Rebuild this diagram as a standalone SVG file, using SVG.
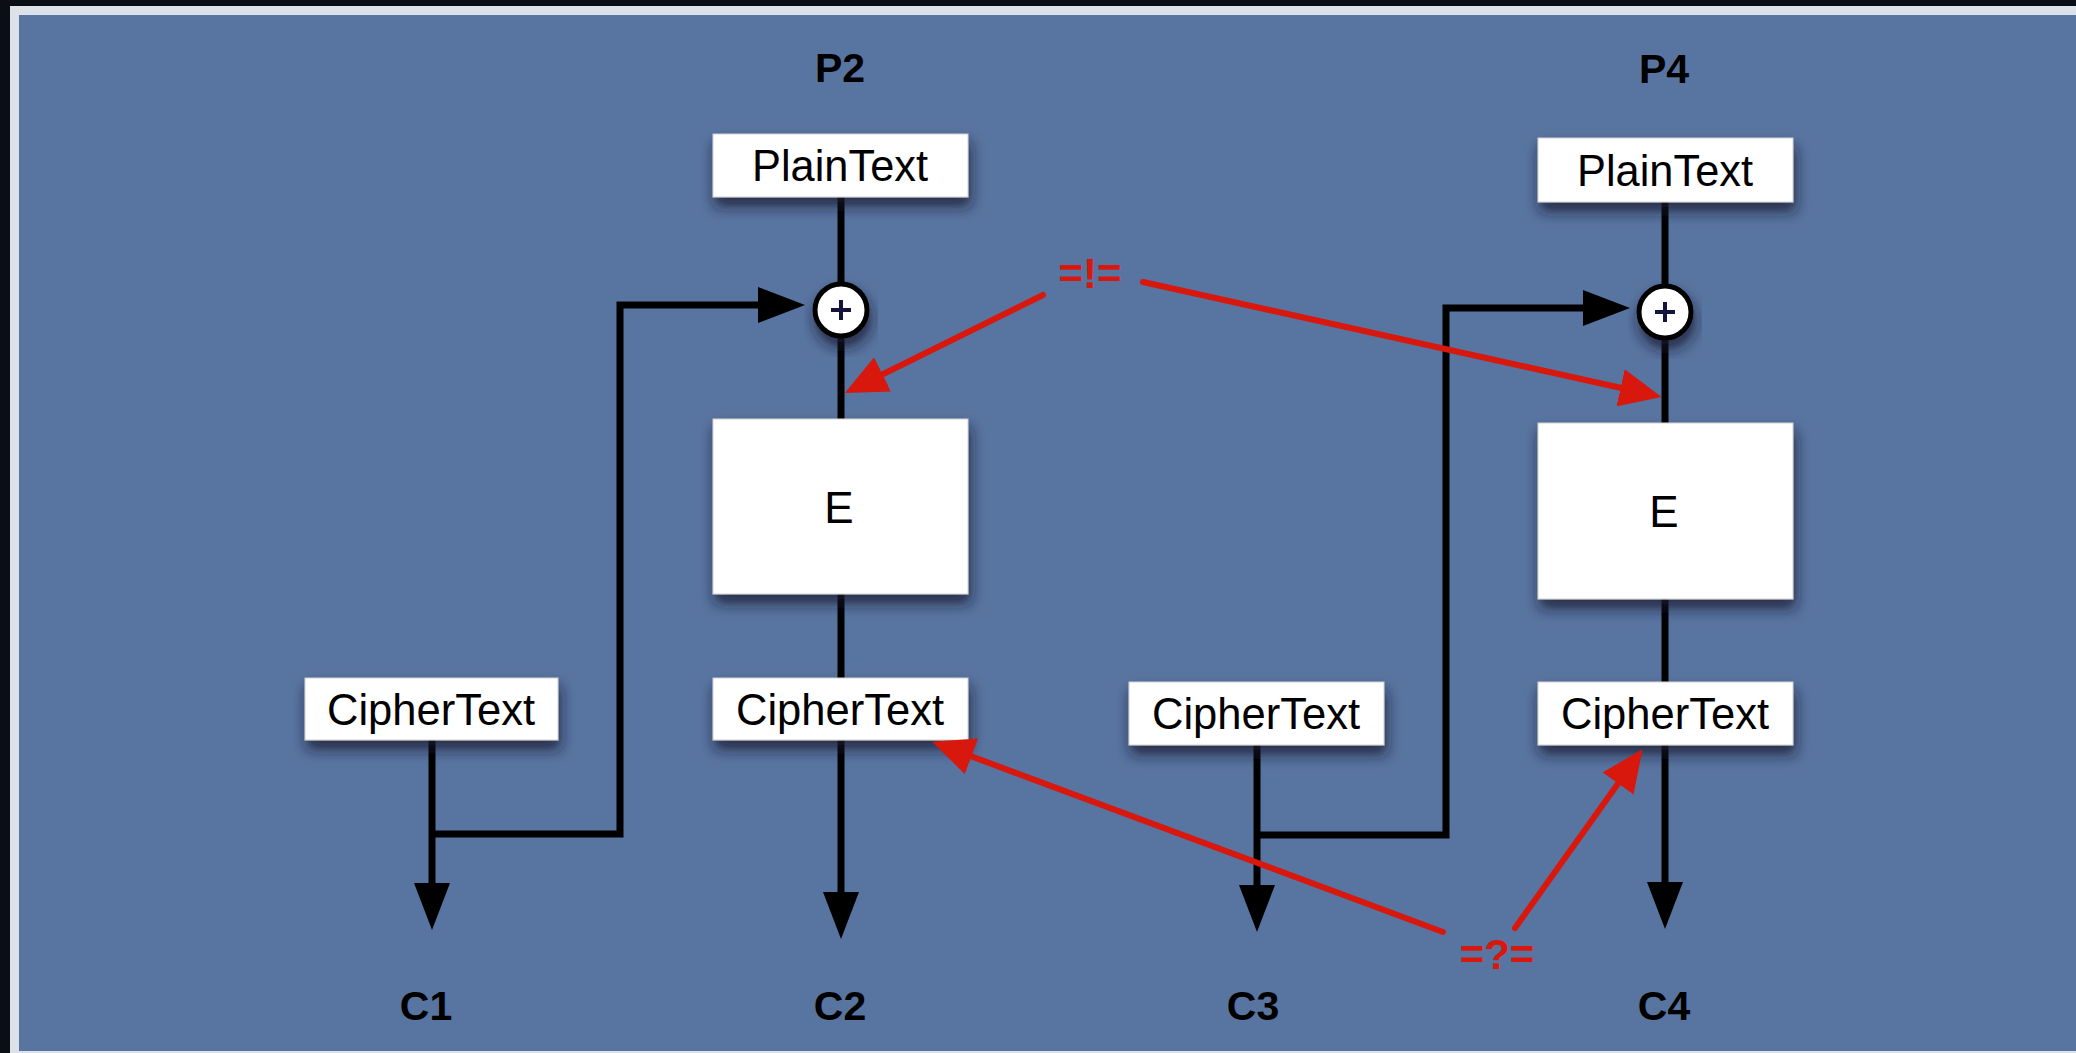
<svg xmlns="http://www.w3.org/2000/svg" width="2076" height="1053" viewBox="0 0 2076 1053">
  <defs>
    <filter id="shadow" x="-20%" y="-30%" width="140%" height="170%">
      <feDropShadow dx="2" dy="9" stdDeviation="7" flood-color="#141c32" flood-opacity="0.8"/>
    </filter>
    <marker id="ab" markerUnits="userSpaceOnUse" markerWidth="48" markerHeight="36" refX="27" refY="18" orient="auto">
      <path d="M0,0 L47,18 L0,36 Z" fill="#000"/>
    </marker>
    <marker id="ar" markerUnits="userSpaceOnUse" markerWidth="44" markerHeight="38" refX="24" refY="19" orient="auto">
      <path d="M0,0 L42,19 L0,38 Z" fill="#d8170d"/>
    </marker>
    <style>
      .box { fill: #ffffff; stroke: #d0d0d0; stroke-width: 1; filter: url(#shadow); }
      .lbl { font-family: "Liberation Sans", Arial, sans-serif; font-size: 44px; fill: #000; text-anchor: middle; }
      .head { font-family: "Liberation Sans", Arial, sans-serif; font-size: 41px; font-weight: bold; fill: #000; text-anchor: middle; }
      .red { font-family: "Liberation Sans", Arial, sans-serif; font-size: 42px; font-weight: bold; fill: #d8170d; text-anchor: middle; }
      .wire { fill: none; stroke: #000; stroke-width: 7; }
      .warrow { fill: none; stroke: #000; stroke-width: 7; marker-end: url(#ab); }
      .rarrow { fill: none; stroke: #d8170d; stroke-width: 6; stroke-linecap: round; marker-end: url(#ar); }
      .xor { fill: #ffffff; stroke: #000; stroke-width: 5; filter: url(#shadow); }
      .plus { stroke: #14143c; stroke-width: 4; }
    </style>
  </defs>

  <!-- frame and background -->
  <rect x="0" y="0" width="2076" height="1053" fill="#0c0e15"/>
  <rect x="10" y="6" width="2066" height="1047" fill="#dde2ea"/>
  <rect x="19" y="15" width="2057" height="1036" fill="#5874a0"/>

  <!-- connectors -->
  <g id="connectors">
    <path class="wire" d="M841,197 V419 M841,594 V678"/>
    <path class="warrow" d="M841,740 V919"/>
    <path class="wire" d="M1665,202 V423 M1665,599 V682"/>
    <path class="warrow" d="M1665,745 V909"/>
    <path class="warrow" d="M432,740 V910"/>
    <path class="warrow" d="M432,834 H620 V305 H785"/>
    <path class="warrow" d="M1257,745 V912"/>
    <path class="warrow" d="M1257,835 H1446 V308 H1610"/>
  </g>

  <!-- nodes -->
  <g id="label-P2"><text class="head" x="840" y="82">P2</text></g>
  <g id="label-P4"><text class="head" x="1664" y="83">P4</text></g>

  <g id="plain2">
    <rect class="box" x="713" y="134" width="255" height="63"/>
    <text class="lbl" x="840" y="181" textLength="176" lengthAdjust="spacingAndGlyphs">PlainText</text>
  </g>
  <g id="plain4">
    <rect class="box" x="1538" y="138" width="255" height="64"/>
    <text class="lbl" x="1665" y="186" textLength="176" lengthAdjust="spacingAndGlyphs">PlainText</text>
  </g>

  <g id="xor2">
    <circle class="xor" cx="841" cy="310" r="26"/>
    <path class="plus" d="M831,310 H851 M841,300 V320"/>
  </g>
  <g id="xor4">
    <circle class="xor" cx="1665" cy="312" r="26"/>
    <path class="plus" d="M1655,312 H1675 M1665,302 V322"/>
  </g>

  <g id="enc2">
    <rect class="box" x="713" y="419" width="255" height="175"/>
    <text class="lbl" x="839" y="523">E</text>
  </g>
  <g id="enc4">
    <rect class="box" x="1538" y="423" width="255" height="176"/>
    <text class="lbl" x="1664" y="527">E</text>
  </g>

  <g id="cipher1">
    <rect class="box" x="305" y="678" width="253" height="62"/>
    <text class="lbl" x="431" y="725" textLength="208" lengthAdjust="spacingAndGlyphs">CipherText</text>
  </g>
  <g id="cipher2">
    <rect class="box" x="713" y="678" width="255" height="62"/>
    <text class="lbl" x="840" y="725" textLength="208" lengthAdjust="spacingAndGlyphs">CipherText</text>
  </g>
  <g id="cipher3">
    <rect class="box" x="1129" y="682" width="255" height="63"/>
    <text class="lbl" x="1256" y="729" textLength="208" lengthAdjust="spacingAndGlyphs">CipherText</text>
  </g>
  <g id="cipher4">
    <rect class="box" x="1538" y="682" width="255" height="63"/>
    <text class="lbl" x="1665" y="729" textLength="208" lengthAdjust="spacingAndGlyphs">CipherText</text>
  </g>

  <g id="label-C1"><text class="head" x="426" y="1020">C1</text></g>
  <g id="label-C2"><text class="head" x="840" y="1020">C2</text></g>
  <g id="label-C3"><text class="head" x="1253" y="1020">C3</text></g>
  <g id="label-C4"><text class="head" x="1664" y="1020">C4</text></g>

  <!-- red annotations -->
  <g id="annotations">
    <path class="rarrow" d="M1043,295 L861,385"/>
    <path class="rarrow" d="M1143,282 L1644,393"/>
    <path class="rarrow" d="M1443,932 L949,748"/>
    <path class="rarrow" d="M1515,928 L1632,764"/>
  </g>
  <g id="label-neq"><text class="red" x="1090" y="288">=!=</text></g>
  <g id="label-eq"><text class="red" x="1497" y="969">=?=</text></g>
</svg>
